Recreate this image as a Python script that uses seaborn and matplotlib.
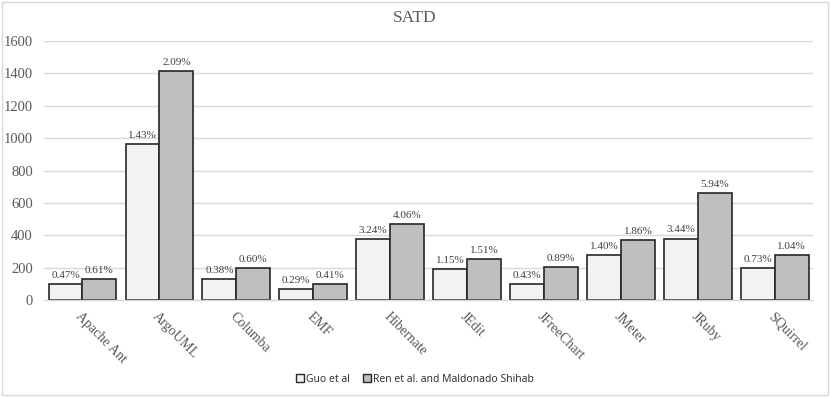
import matplotlib
matplotlib.use("Agg")
import matplotlib.pyplot as plt
import seaborn as sns
import pandas as pd
from matplotlib.patches import Rectangle

projects = ["Apache Ant", "ArgoUML", "Columba", "EMF", "Hibernate", "JEdit",
            "JFreeChart", "JMeter", "JRuby", "SQuirrel"]
guo = [100, 965, 128, 70, 375, 190, 97, 276, 380, 196]
ren = [130, 1415, 200, 100, 470, 251, 206, 371, 660, 280]
guo_pct = ["0.47%", "1.43%", "0.38%", "0.29%", "3.24%", "1.15%", "0.43%", "1.40%", "3.44%", "0.73%"]
ren_pct = ["0.61%", "2.09%", "0.60%", "0.41%", "4.06%", "1.51%", "0.89%", "1.86%", "5.94%", "1.04%"]
series = ["Guo et al", "Ren et al. and Maldonado Shihab"]
colors = ["#f2f2f2", "#bfbfbf"]

df = pd.DataFrame({
    "project": projects * 2,
    "value": guo + ren,
    "series": [series[0]] * len(projects) + [series[1]] * len(projects),
    "label": guo_pct + ren_pct,
})

sns.set_style("white")
fig = plt.figure(figsize=(8.3, 3.97), dpi=100)
ax = fig.add_axes([0.053, 0.244, 0.927, 0.653])

sns.barplot(data=df, x="project", y="value", hue="series", palette=colors,
            order=projects, hue_order=series, width=0.88, gap=0,
            edgecolor="#262626", linewidth=1.2, legend=False, ax=ax, saturation=1)

for cont, labs in zip(ax.containers, [guo_pct, ren_pct]):
    ax.bar_label(cont, labels=labs, padding=3, fontsize=8, color="#404040",
                 family="Liberation Serif")

ax.set_ylim(0, 1600)
ax.set_xlim(-0.5, len(projects) - 0.5)
ax.set_yticks(range(0, 1601, 200))
ax.yaxis.grid(True, color="#d9d9d9", linewidth=1)
ax.set_axisbelow(True)
for s in ["top", "right", "left"]:
    ax.spines[s].set_visible(False)
ax.spines["bottom"].set_color("#d9d9d9")
ax.spines["bottom"].set_linewidth(1)
ax.set_xlabel("")
ax.set_ylabel("")
ax.tick_params(axis="y", length=0, pad=8, labelsize=10.5, labelcolor="#595959")
ax.tick_params(axis="x", length=0, pad=7, labelsize=10, labelcolor="#595959")
for t in ax.get_yticklabels():
    t.set_family("Liberation Serif")
for t in ax.get_xticklabels():
    t.set_family("Liberation Serif")
    t.set_rotation(-45)
    t.set_ha("left")
    t.set_va("top")
    t.set_rotation_mode("anchor")

fig.text(0.5, 0.955, "SATD", ha="center", va="center", fontsize=12.5,
         color="#595959", family="Liberation Serif")

handles = [Rectangle((0, 0), 1, 1, facecolor=c, edgecolor="#262626", linewidth=1) for c in colors]
fig.legend(handles, series, loc="center", bbox_to_anchor=(0.5, 0.045), ncol=2,
           frameon=False, prop={"family": "Open Sans", "size": 7.5},
           handlelength=0.8, handleheight=0.8, handletextpad=0.2, columnspacing=1.2)

fig.patches.append(Rectangle((0.002, 0.004), 0.996, 0.992, transform=fig.transFigure,
                             fill=False, edgecolor="#d9d9d9", linewidth=1))

fig.savefig("out.png", dpi=100)
